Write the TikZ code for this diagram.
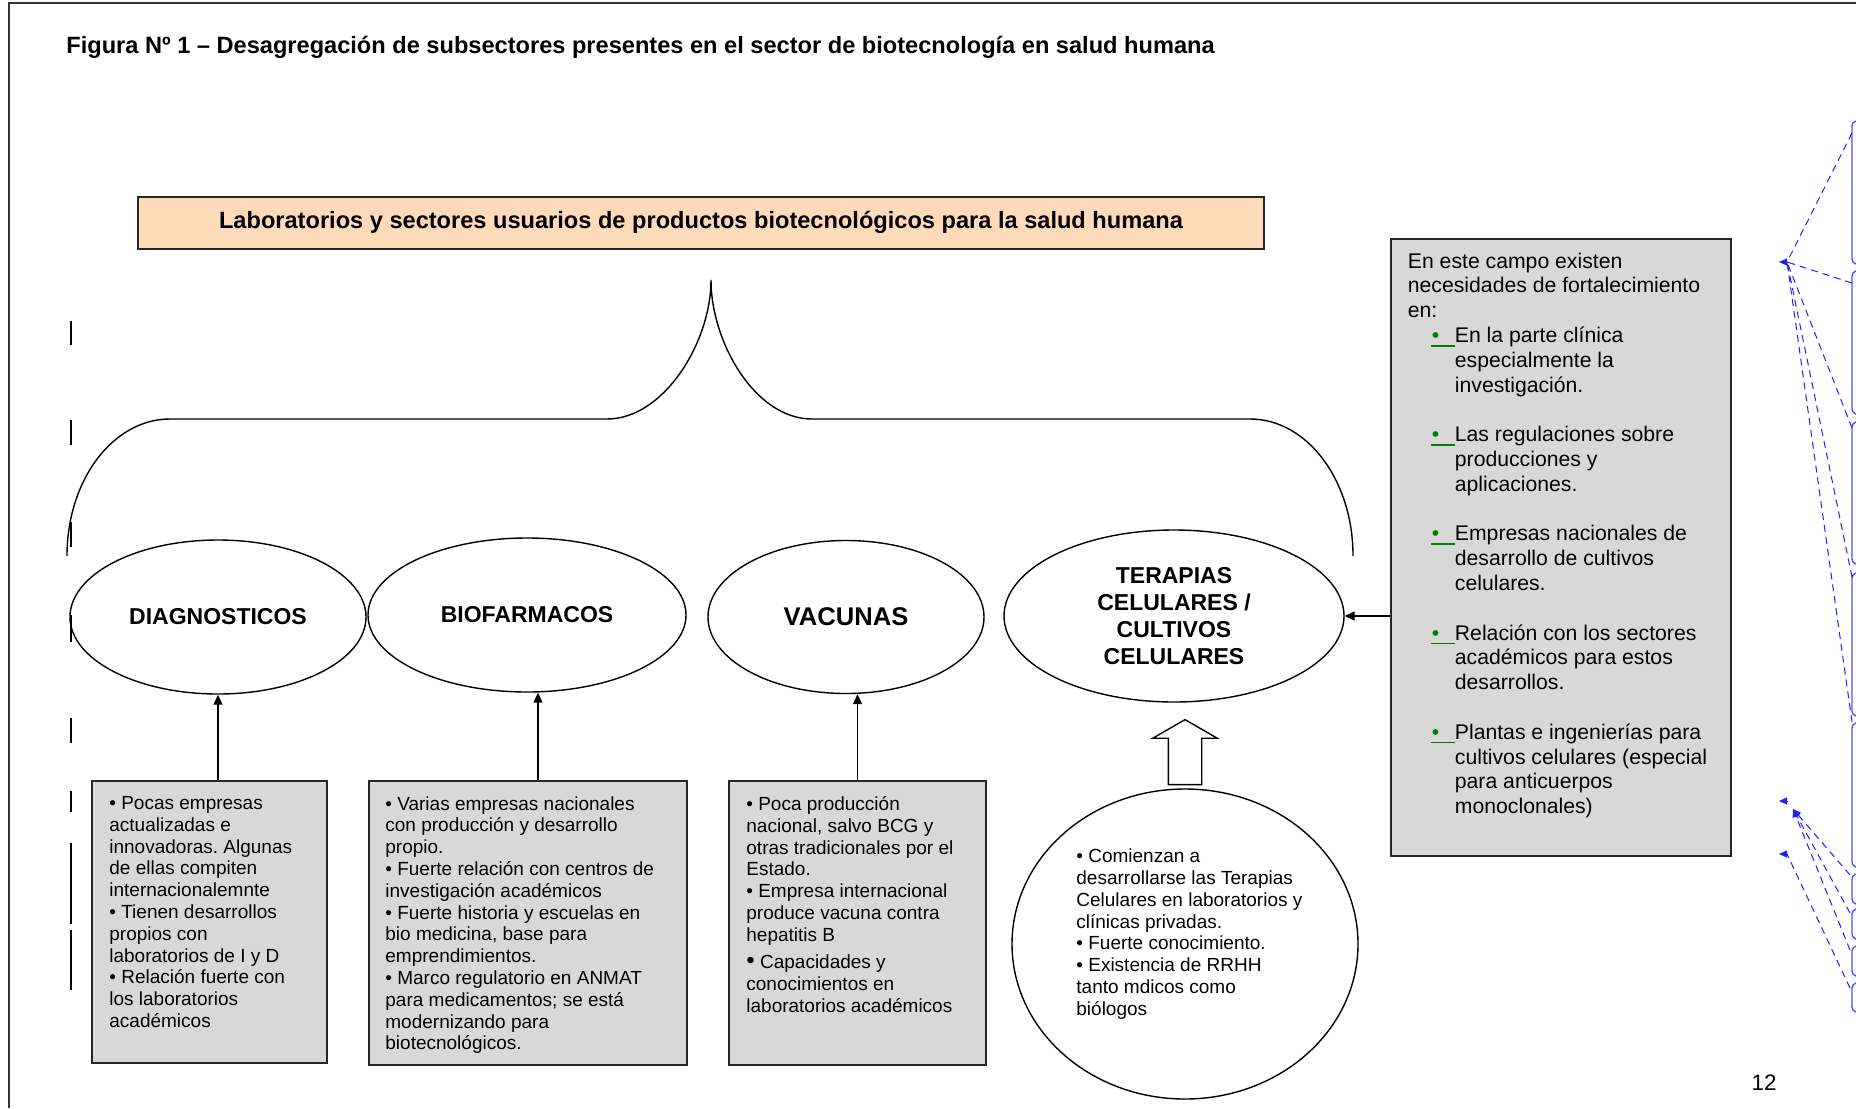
\documentclass[tikz,border=0pt]{standalone}
\usepackage{fontspec}
\setmainfont{Liberation Sans}
\frenchspacing
\usetikzlibrary{positioning,shapes.geometric,shapes.arrows,arrows.meta}
\definecolor{durazno}{RGB}{252,218,186}
\definecolor{gris}{RGB}{216,216,216}
\definecolor{verde}{RGB}{0,128,0}
\definecolor{azul}{RGB}{30,30,255}
\definecolor{azulclaro}{RGB}{80,80,255}
% vineta verde subrayada y sangria de continuacion
\newcommand{\vi}{\hspace*{11.5pt}\textcolor{verde}{\rlap{\rule[-2pt]{12pt}{0.8pt}}\makebox[12pt][l]{\hspace{0.5pt}•}}}
\newcommand{\sg}{\hspace*{23.5pt}}

\begin{document}
\begin{tikzpicture}[x=0.5pt,y=-0.5pt,
  sector/.style={ellipse,draw,line width=0.7pt,inner sep=0pt,align=center,
    font=\fontsize{11.5}{13.6}\selectfont\bfseries},
  caja/.style={draw=black!85,line width=1pt,fill=gris,inner sep=0pt,anchor=north west},
  txt/.style={inner sep=0pt,align=left,font=\fontsize{9.5}{10.9}\selectfont},
  flecha/.style={line width=0.6pt,-{Triangle[length=5pt,width=4.5pt]}},
  bloque/.style={draw,single arrow,shape border rotate=90,line width=0.7pt,fill=white,
    minimum height=32.5pt,single arrow head extend=7.75pt,
    single arrow tip angle=120,inner sep=8pt},
  nota/.style={azul,line width=0.5pt,dash pattern=on 3.5pt off 2.5pt},
  punta/.style={azul,line width=0.5pt,-{Triangle[length=4pt,width=3.5pt]}},
  globo/.style={azulclaro,line width=0.7pt},
  marca/.style={line width=1pt}]
\useasboundingbox (0,0) rectangle (1856,1108);

% marco de pagina
\draw[line width=1pt,black!80] (9,1108) -- (9,3) -- (1856,3);

\node[anchor=west,inner sep=0pt,font=\fontsize{11.8}{14}\selectfont\bfseries] (titulo) at (66,47)
  {Figura Nº 1 – Desagregación de subsectores presentes en el sector de biotecnología en salud humana};

\node[caja,anchor=center,fill=durazno,minimum width=562.8pt,minimum height=26pt,
  font=\fontsize{11.8}{14}\selectfont\bfseries] (lab) at (701,222.5)
  {Laboratorios y sectores usuarios de productos biotecnológicos para la salud humana};

% llave
\draw[line width=0.7pt] (67,556) .. controls (67,480) and (113,419) .. (170,419) -- (607,419)
  .. controls (664,419) and (711,342) .. (711,280)
  .. controls (711,342) and (755,419) .. (812,419) -- (1250,419)
  .. controls (1307,419) and (1353,480) .. (1353,556);

\node[sector,minimum width=148pt,minimum height=77pt] (diag) at (218,617) {DIAGNOSTICOS};
\node[sector,minimum width=159pt,minimum height=77pt] (bio) at (527,615) {BIOFARMACOS};
\node[sector,minimum width=138pt,minimum height=76.5pt,
  font=\fontsize{12.8}{14}\selectfont\bfseries] (vac) at (846,617) {VACUNAS};
\node[sector,minimum width=170pt,minimum height=86pt] (ter) at (1174,616)
  {TERAPIAS\\CELULARES /\\CULTIVOS\\CELULARES};

\node[caja,minimum width=117.25pt,minimum height=141pt] (dbox) at (91,780) {};
\node[caja,minimum width=159pt,minimum height=142pt] (bbox) at (368,780) {};
\node[caja,minimum width=128.5pt,minimum height=142pt] (vbox) at (728,780) {};
\node[caja,minimum width=170pt,minimum height=308.5pt] (rbox) at (1390,238) {};
\node[ellipse,draw,line width=0.7pt,inner sep=0pt,minimum width=173pt,minimum height=155pt] (cel) at (1185,944) {};

\node[txt,below right=8pt and 9pt of dbox.north west] (dtxt)
  {• Pocas empresas\\actualizadas e\\innovadoras. Algunas\\de ellas compiten\\internacionalemnte\\
   • Tienen desarrollos\\propios con\\laboratorios de I y D\\• Relación fuerte con\\los laboratorios\\académicos};
\node[txt,below right=8pt and 8.5pt of bbox.north west] (btxt)
  {• Varias empresas nacionales\\con producción y desarrollo\\propio.\\• Fuerte relación con centros de\\
   investigación académicos\\• Fuerte historia y escuelas en\\bio medicina, base para\\emprendimientos.\\
   • Marco regulatorio en ANMAT\\para medicamentos; se está\\modernizando para\\biotecnológicos.};
\node[txt,below right=8pt and 9pt of vbox.north west] (vtxt)
  {• Poca producción\\nacional, salvo BCG y\\otras tradicionales por el\\Estado.\\• Empresa internacional\\
   produce vacuna contra\\hepatitis B\\[2.7pt]{\fontsize{12}{10}\selectfont•} Capacidades y\\conocimientos en\\laboratorios académicos};
\node[txt,anchor=west] (celtxt) at (1076,934)
  {• Comienzan a\\desarrollarse las Terapias\\Celulares en laboratorios y\\clínicas privadas.\\
   • Fuerte conocimiento.\\• Existencia de RRHH\\tanto mdicos como\\biólogos};
\node[txt,font=\fontsize{10.6}{12.4}\selectfont,below right=7.2pt and 8.75pt of rbox.north west] (rtxt)
  {En este campo existen\\necesidades de fortalecimiento\\en:\\
   \vi En la parte clínica\\\sg especialmente la\\\sg investigación.\\[12.4pt]
   \vi Las regulaciones sobre\\\sg producciones y\\\sg aplicaciones.\\[12.4pt]
   \vi Empresas nacionales de\\\sg desarrollo de cultivos\\\sg celulares.\\[12.4pt]
   \vi Relación con los sectores\\\sg académicos para estos\\\sg desarrollos.\\[12.4pt]
   \vi Plantas e ingenierías para\\\sg cultivos celulares (especial\\\sg para anticuerpos\\\sg monoclonales)};

\draw[flecha] (diag.south |- dbox.north) -- (diag.south);
\draw[flecha] ([xshift=5pt]bbox.north) -- ([xshift=5pt]bbox.north |- bio.south);
\draw[flecha] (vbox.north) -- (vbox.north |- vac.south);
\draw[flecha] (rbox.west |- ter.east) -- (ter.east);
\node[bloque,anchor=tail] (sube) at ([yshift=1.5pt]cel.north) {};

\node[font=\fontsize{11.2}{13}\selectfont] (pag) at (1764,1083) {12};

% barras de cambios
\foreach \ya/\yb in {321/345,420/445,522/547,615/642,718/743,791/812,843/924,930/990}
  \draw[marca] (71,\ya) -- (71,\yb);

% comentarios al margen
\foreach \ya/\yb in {120/265,270/415,421/565,572/717,722/868,873/905,908/940,945/977,982/1013}
  \draw[globo] (1862,\ya) to[out=180,in=90] (1852,\ya+6) -- (1852,\yb-6) to[out=-90,in=180] (1862,\yb);
\coordinate (t1) at (1779,262);
\coordinate (t2) at (1779,801);
\coordinate (t3) at (1779,854);
\draw[punta] ([xshift=4pt]t1) -- (t1);
\draw[punta] ([xshift=4pt]t2) -- (t2);
\draw[punta] ([xshift=4pt]t3) -- (t3);
\foreach \y in {133,283,428,577,722}
  \draw[nota] (1852,\y) -- ([xshift=4pt]t1);
\foreach \y in {875,913,950}
  \draw[nota,-{Triangle[length=4pt,width=3.5pt]}] (1850,\y) -- (1793,809);
\draw[nota] (1850,988) -- ([xshift=4pt]t3);
\end{tikzpicture}
\end{document}
